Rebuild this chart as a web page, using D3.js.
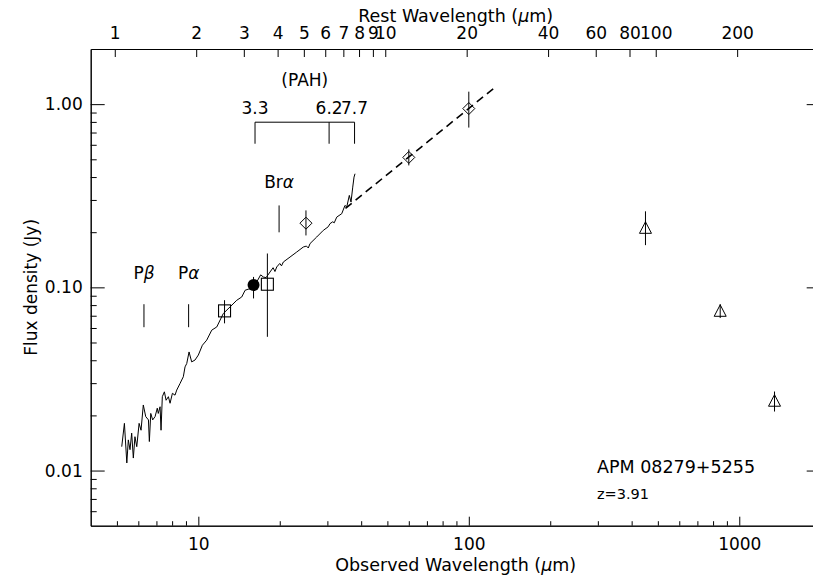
<!DOCTYPE html>
<html>
<head>
<meta charset="utf-8">
<script src="https://cdn.jsdelivr.net/npm/d3@7"></script>
<style>
  html, body { margin: 0; padding: 0; background: #fff; }
  svg text { font-family: "DejaVu Sans", sans-serif; fill: #000; }
</style>
</head>
<body>
<svg id="chart" width="813" height="575"></svg>
<script>
// ---------------- data ----------------
const redshift = 3.91;

// IRS spectrum (observed wavelength um, flux Jy)
const specWave = [5.21, 5.33, 5.44, 5.51, 5.59, 5.67, 5.75, 5.83, 5.92, 6.04, 6.14, 6.26, 6.39, 6.54, 6.59, 6.67,
  6.78, 6.92, 7.05, 7.11, 7.22, 7.28, 7.36, 7.49, 7.60, 7.75, 7.86, 8.02, 8.20, 8.32, 8.56, 8.68, 8.80, 8.93,
  9.06, 9.24, 9.45, 9.72, 10.0, 10.35, 10.74, 11.21, 11.70, 12.37, 13.10, 13.87, 14.47, 14.89, 15.53, 16.44,
  17.0, 17.39, 17.8, 18.41, 18.9, 19.2, 19.49, 20.0, 20.3, 20.62, 21.83, 23.11, 24.44, 25.1, 25.5, 25.88,
  27.40, 28.98, 30.2, 30.68, 31.4, 31.8, 32.49, 33.90, 34.85, 35.37, 36.16, 36.69, 37.23, 37.64, 37.96];
const specFlux = [0.0135, 0.0181, 0.0110, 0.0147, 0.0130, 0.0160, 0.0117, 0.0153, 0.0135, 0.0181, 0.0166, 0.0228,
  0.0197, 0.0189, 0.0144, 0.0205, 0.0189, 0.0197, 0.0219, 0.0205, 0.0223, 0.0166, 0.0253, 0.0269, 0.0242,
  0.0253, 0.0233, 0.0264, 0.0258, 0.0275, 0.0299, 0.0312, 0.0325, 0.0368, 0.0384, 0.0444, 0.0392, 0.0401,
  0.0427, 0.0483, 0.0515, 0.0584, 0.0608, 0.0720, 0.0782, 0.0850, 0.0886, 0.0964, 0.0985, 0.1070,
  0.117, 0.1139, 0.113, 0.1213, 0.128, 0.122, 0.1292, 0.135, 0.131, 0.1375, 0.1464, 0.1559, 0.1660, 0.168,
  0.164, 0.1733, 0.1883, 0.2047, 0.214, 0.2227, 0.228, 0.225, 0.2418, 0.2524, 0.2801, 0.2743, 0.3176,
  0.2920, 0.3525, 0.3996, 0.4170];

// power-law extrapolation (dashed)
const fitWave = [35, 127];
const fitFlux = [0.27, 1.26];

// photometry: open squares
const sqWave = [12.5, 18];
const sqFlux = [0.0744, 0.104];
const sqLo = [0.0636, 0.0537];
const sqHi = [0.0851, 0.153];
// filled circle
const circWave = [16];
const circFlux = [0.103];
const circLo = [0.087];
const circHi = [0.114];
// diamonds
const diaWave = [25, 60, 100];
const diaFlux = [0.224, 0.512, 0.946];
const diaLo = [0.192, 0.463, 0.745];
const diaHi = [0.263, 0.566, 1.17];
// triangles
const triWave = [450, 850, 1350];
const triFlux = [0.21, 0.074, 0.0239];
const triLo = [0.17, 0.068, 0.021];
const triHi = [0.26, 0.081, 0.027];

// emission line markers (rest wavelength um)
const lineNames = ["P", "P", "Br"];
const lineGreek = ["β", "α", "α"];
const lineRest = [1.282, 1.875, 4.05];
const lineTop = [0.0809, 0.0809, 0.28];
const lineBot = [0.0606, 0.0606, 0.1997];
const lineLabelFlux = [0.111, 0.111, 0.347];

// PAH features (rest wavelength um)
const pahRest = [3.3, 6.2, 7.7];
const pahLabels = ["3.3", "6.2", "7.7"];
const pahBarFlux = 0.797;
const pahTickFlux = 0.608;
const pahLabelFlux = 0.889;
const pahTitleFlux = 1.263;

// axis ticks
const xMajor = [10, 100, 1000];
const xMinor = [5, 6, 7, 8, 9, 20, 30, 40, 50, 60, 70, 80, 90, 200, 300, 400, 500, 600, 700, 800, 900];
const topTicks = [1, 2, 3, 4, 5, 6, 7, 8, 9, 10, 20, 40, 60, 80, 100, 200];
const yMajor = [0.01, 0.1, 1];
const yMinor = [0.006, 0.007, 0.008, 0.009, 0.02, 0.03, 0.04, 0.05, 0.06, 0.07, 0.08, 0.09,
  0.2, 0.3, 0.4, 0.5, 0.6, 0.7, 0.8, 0.9];

// ---------------- layout ----------------
const L = 90.7, R = 820.7, T = 49, B = 525.7;
const svg = d3.select("#chart");

const x = d3.scaleLog().domain([4, 2000]).range([L, R]);
const xTop = d3.scaleLog().domain([4 / (1 + redshift), 2000 / (1 + redshift)]).range([L, R]);
const y = d3.scaleLog().domain([0.005, 2]).range([B, T]);

const FS = 17;

function styleAxis(g) {
  g.selectAll("path.domain").attr("stroke", "#000").attr("stroke-width", 1);
  g.selectAll(".tick line").attr("stroke", "#000").attr("stroke-width", 1);
  g.selectAll("text").attr("font-size", FS).attr("font-family", "DejaVu Sans, sans-serif").attr("fill", "#000");
}

// bottom axis
svg.append("g").attr("transform", `translate(0,${B})`)
  .call(d3.axisBottom(x).tickValues(xMinor).tickSize(-4.5).tickSizeOuter(0).tickFormat(""))
  .call(styleAxis);
svg.append("g").attr("transform", `translate(0,${B})`)
  .call(d3.axisBottom(x).tickValues(xMajor).tickSize(-9).tickSizeOuter(0).tickPadding(12).tickFormat(d3.format("d")))
  .call(styleAxis);

// top axis (rest wavelength)
svg.append("g").attr("transform", `translate(0,${T})`)
  .call(d3.axisTop(xTop).tickValues(topTicks).tickSize(-8).tickSizeOuter(0).tickPadding(10).tickFormat(d3.format("d")))
  .call(styleAxis);

// left axis
svg.append("g").attr("transform", `translate(${L},0)`)
  .call(d3.axisLeft(y).tickValues(yMinor).tickSize(-6).tickSizeOuter(0).tickFormat(""))
  .call(styleAxis);
svg.append("g").attr("transform", `translate(${L},0)`)
  .call(d3.axisLeft(y).tickValues(yMajor).tickSize(-14).tickSizeOuter(0).tickPadding(8).tickFormat(d3.format(".2f")))
  .call(styleAxis);

// right axis
svg.append("g").attr("transform", `translate(${R},0)`)
  .call(d3.axisRight(y).tickValues(yMinor).tickSize(-6).tickSizeOuter(0).tickFormat(""))
  .call(styleAxis);
svg.append("g").attr("transform", `translate(${R},0)`)
  .call(d3.axisRight(y).tickValues(yMajor).tickSize(-14).tickSizeOuter(0).tickFormat(""))
  .call(styleAxis);

// axis titles
const rest = svg.append("text").attr("x", (L + R) / 2).attr("y", 21.5).attr("text-anchor", "middle").attr("font-size", 17.5);
rest.append("tspan").text("Rest Wavelength (");
rest.append("tspan").attr("font-style", "italic").text("μ");
rest.append("tspan").text("m)");

const obs = svg.append("text").attr("x", (L + R) / 2).attr("y", 571).attr("text-anchor", "middle").attr("font-size", 17.5);
obs.append("tspan").text("Observed Wavelength (");
obs.append("tspan").attr("font-style", "italic").text("μ");
obs.append("tspan").text("m)");

svg.append("text").attr("transform", `translate(37,${(T + B) / 2}) rotate(-90)`)
  .attr("text-anchor", "middle").attr("font-size", 17).text("Flux density (Jy)");

// ---------------- marks ----------------
const plot = svg.append("g");

// spectrum
const spec = specWave.map((w, i) => [w, specFlux[i]]);
plot.append("path").datum(spec)
  .attr("fill", "none").attr("stroke", "#000").attr("stroke-width", 1).attr("stroke-linejoin", "round")
  .attr("d", d3.line().x(d => x(d[0])).y(d => y(d[1])));

// dashed fit
const fit = fitWave.map((w, i) => [w, fitFlux[i]]);
plot.append("path").datum(fit)
  .attr("fill", "none").attr("stroke", "#000").attr("stroke-width", 1.6).attr("stroke-dasharray", "8,5")
  .attr("d", d3.line().x(d => x(d[0])).y(d => y(d[1])));

// error bars helper
function errBars(w, lo, hi) {
  plot.selectAll(null).data(w.map((v, i) => ({ w: v, lo: lo[i], hi: hi[i] }))).enter().append("line")
    .attr("x1", d => x(d.w)).attr("x2", d => x(d.w))
    .attr("y1", d => y(d.lo)).attr("y2", d => y(d.hi))
    .attr("stroke", "#000").attr("stroke-width", 1);
}
errBars(sqWave, sqLo, sqHi);
errBars(circWave, circLo, circHi);
errBars(diaWave, diaLo, diaHi);
errBars(triWave, triLo, triHi);

// squares
plot.selectAll(null).data(sqWave.map((w, i) => [w, sqFlux[i]])).enter().append("rect")
  .attr("x", d => x(d[0]) - 6).attr("y", d => y(d[1]) - 6).attr("width", 12).attr("height", 12)
  .attr("fill", "none").attr("stroke", "#000").attr("stroke-width", 1.1);
// filled circle
plot.selectAll(null).data(circWave.map((w, i) => [w, circFlux[i]])).enter().append("circle")
  .attr("cx", d => x(d[0])).attr("cy", d => y(d[1])).attr("r", 6).attr("fill", "#000");
// diamonds
plot.selectAll(null).data(diaWave.map((w, i) => [w, diaFlux[i]])).enter().append("path")
  .attr("transform", d => `translate(${x(d[0])},${y(d[1])})`)
  .attr("d", "M0,-6L6,0L0,6L-6,0Z").attr("fill", "none").attr("stroke", "#000").attr("stroke-width", 1);
// triangles
plot.selectAll(null).data(triWave.map((w, i) => [w, triFlux[i]])).enter().append("path")
  .attr("transform", d => `translate(${x(d[0])},${y(d[1])})`)
  .attr("d", "M0,-6.5L6,5L-6,5Z").attr("fill", "none").attr("stroke", "#000").attr("stroke-width", 1);

// emission line markers
lineRest.forEach((r, i) => {
  const xv = x(r * (1 + redshift));
  plot.append("line").attr("x1", xv).attr("x2", xv).attr("y1", y(lineTop[i])).attr("y2", y(lineBot[i]))
    .attr("stroke", "#000").attr("stroke-width", 1);
  const t = plot.append("text").attr("x", xv).attr("y", y(lineLabelFlux[i])).attr("text-anchor", "middle").attr("font-size", FS);
  t.append("tspan").text(lineNames[i]);
  t.append("tspan").attr("font-style", "italic").text(lineGreek[i]);
});

// PAH bracket
const pahX = pahRest.map(r => x(r * (1 + redshift)));
plot.append("line").attr("x1", pahX[0]).attr("x2", pahX[pahX.length - 1])
  .attr("y1", y(pahBarFlux)).attr("y2", y(pahBarFlux)).attr("stroke", "#000").attr("stroke-width", 1);
pahX.forEach((xv, i) => {
  plot.append("line").attr("x1", xv).attr("x2", xv).attr("y1", y(pahBarFlux)).attr("y2", y(pahTickFlux))
    .attr("stroke", "#000").attr("stroke-width", 1);
  plot.append("text").attr("x", xv).attr("y", y(pahLabelFlux)).attr("text-anchor", "middle")
    .attr("font-size", FS).text(pahLabels[i]);
});
plot.append("text").attr("x", (pahX[0] + pahX[pahX.length - 1]) / 2).attr("y", y(pahTitleFlux))
  .attr("text-anchor", "middle").attr("font-size", FS).text("(PAH)");

// object label
svg.append("text").attr("x", 597).attr("y", 473).attr("font-size", 17.5).text("APM 08279+5255");
svg.append("text").attr("x", 597).attr("y", 499).attr("font-size", 14.5).text("z=" + redshift.toFixed(2));
</script>
</body>
</html>
